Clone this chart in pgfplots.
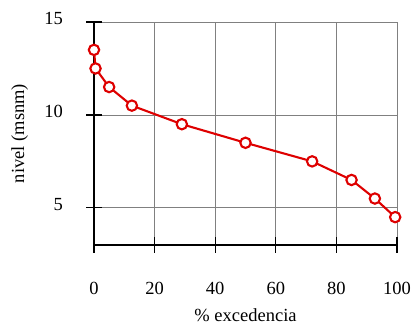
\documentclass[border=0pt]{standalone}
\usepackage{fontspec}
\setmainfont{Liberation Serif}
\usepackage{pgfplots}
\pgfplotsset{compat=1.18}
\definecolor{linered}{RGB}{222,0,0}
\begin{document}
\begin{tikzpicture}
\useasboundingbox (-94bp,-79bp) rectangle (318bp,245bp);
\begin{axis}[
  at={(0,0)}, anchor=south west,
  scale only axis, width=303bp, height=223bp,
  xmin=0, xmax=100, ymin=3, ymax=15,
  xtick={0,20,40,60,80,100}, ytick={5,10,15},
  axis lines*=left,
  axis line style={black, line width=1.2pt},
  grid=major,
  grid style={draw=black!50, line width=0.8pt},
  major tick length=15bp,
  tick align=center,
  tick style={black, line width=1.2pt},
  /pgf/number format/assume math mode=true,
  ticklabel style={font=\fontsize{18.5bp}{22bp}\selectfont},
  xticklabel style={anchor=base, yshift=-42bp},
  yticklabel style={anchor=east, xshift=-20bp, yshift=3.5bp},
  xlabel={\% excedencia},
  ylabel={nivel (msnm)},
  label style={font=\fontsize{18.5bp}{22bp}\selectfont},
  xlabel style={at={(axis description cs:0.5,0)}, anchor=base, yshift=-76bp},
  ylabel style={at={(axis description cs:-0.231,0.5)}, anchor=base, rotate=0},
  clip=false,
]
\addplot[color=linered, line width=2.1pt, mark=*, mark size=5.2bp,
  mark options={fill=white, draw=linered, line width=2.1pt}]
  coordinates {
  (0,13.5) (0.5,12.5) (5,11.5) (12.5,10.5) (29,9.5) (50,8.5)
  (72,7.5) (85,6.5) (92.7,5.5) (99.4,4.5)
  };
\end{axis}
\end{tikzpicture}
\end{document}
